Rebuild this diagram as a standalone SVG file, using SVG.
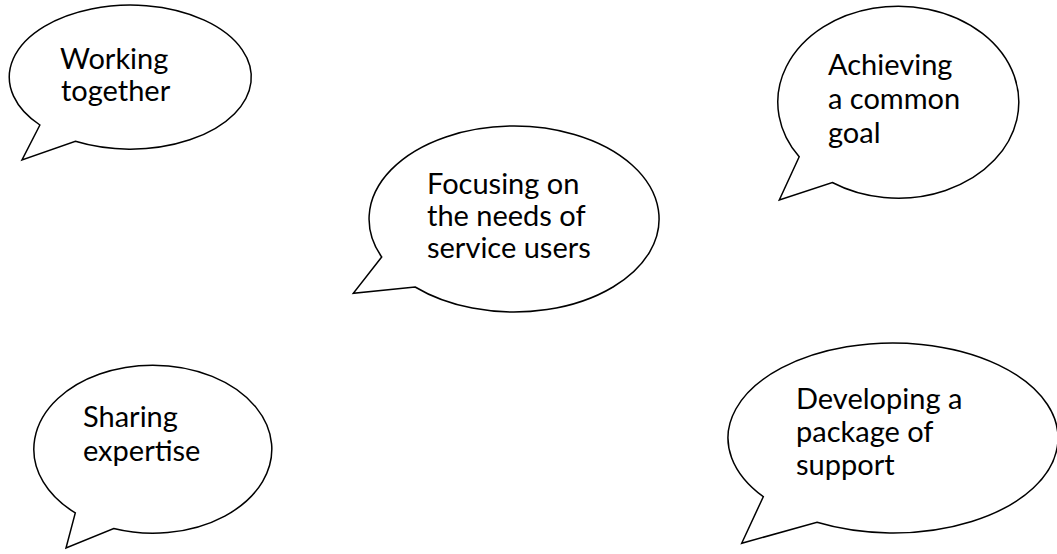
<svg xmlns="http://www.w3.org/2000/svg" width="1057" height="554" viewBox="0 0 1057 554">
  <style>
    .bubble { fill: #ffffff; stroke: #000000; stroke-width: 1.5; stroke-linejoin: miter; }
    .label { font-family: Lato, "Open Sans", "Liberation Sans", sans-serif; font-size: 29px; fill: #000000; }
  </style>
  <rect x="0" y="0" width="1057" height="554" fill="#ffffff"/>

  <!-- Each bubble: elliptical body with a wedge tail pointing down-left -->
  <g id="working-together">
    <path class="bubble" d="M39.9,125 L22,160 L75.4,141.3 A121,72 0 1 0 39.9,125 Z"/>
    <text class="label" x="60" y="69">Working</text>
    <text class="label" x="61" y="101">together</text>
  </g>

  <g id="focusing-on-needs">
    <path class="bubble" d="M381.7,257 L353.3,293.3 L415.1,287 A145,93 0 1 0 381.7,257 Z"/>
    <text class="label" x="427" y="194">Focusing on</text>
    <text class="label" x="427" y="226">the needs of</text>
    <text class="label" x="427" y="258">service users</text>
  </g>

  <g id="common-goal">
    <path class="bubble" d="M799.2,156.8 L779.3,200 L832.3,182.5 A120.5,96 0 1 0 799.2,156.8 Z"/>
    <text class="label" x="828" y="75">Achieving</text>
    <text class="label" x="828" y="109">a common</text>
    <text class="label" x="828" y="143">goal</text>
  </g>

  <g id="sharing-expertise">
    <path class="bubble" d="M75.3,512.9 L66,548 L113.7,528.5 A119,84 0 1 0 75.3,512.9 Z"/>
    <text class="label" x="83" y="427">Sharing</text>
    <text class="label" x="83" y="461">expertise</text>
  </g>

  <g id="package-of-support">
    <path class="bubble" d="M763.3,496.7 L741.7,543.3 L817,522.3 A165,95 0 1 0 763.3,496.7 Z"/>
    <text class="label" x="796" y="409">Developing a</text>
    <text class="label" x="796" y="442">package of</text>
    <text class="label" x="796" y="475">support</text>
  </g>

  <!-- no connectors between the bubbles -->
  <g id="connectors"/>
</svg>
